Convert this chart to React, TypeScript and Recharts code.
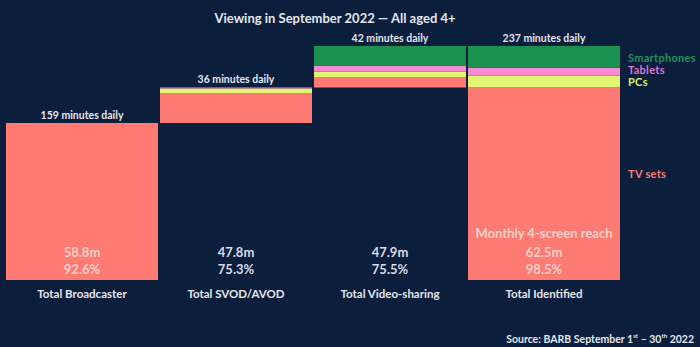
import { BarChart, Bar, XAxis, YAxis, LabelList, Legend } from "recharts";

const categories = ["Total Broadcaster", "Total SVOD/AVOD", "Total Video-sharing", "Total Identified"];
// invisible offset so each bar starts where the previous one ended
const baseMinutes = [0, 159, 195, 0];
const tvSets = [159, 30, 10, 195];
const pcs = [0, 5, 6, 12];
const tablets = [0, 1, 6, 8];
const smartphones = [0, 0, 20, 22];
const totalMinutes = [159, 36, 42, 237];
const reachPeople = ["58.8m", "47.8m", "47.9m", "62.5m"];
const reachShare = ["92.6%", "75.3%", "75.5%", "98.5%"];

const BG = "#0b1e3c";
const FONT = "Lato, 'Noto Sans', sans-serif";

const data = categories.map((name, i) => ({
  name,
  base: baseMinutes[i],
  tv: tvSets[i],
  pcs: pcs[i],
  tablets: tablets[i],
  smartphones: smartphones[i],
}));

// hung on the TV segment (never zero), lifted by the segments stacked above it
const TopLabel = (props: any) => {
  const { x, y, width, height, index } = props;
  const perMinute = height / tvSets[index];
  const above = pcs[index] + tablets[index] + smartphones[index];
  const top = y - above * perMinute;
  return (
    <text
      x={x + width / 2}
      y={top - 4}
      textAnchor="middle"
      fill="#e4e7ee"
      fontSize={10.5}
      fontWeight={700}
      fontFamily={FONT}
    >
      {totalMinutes[index]} minutes daily
    </text>
  );
};

const CategoryTick = (props: any) => {
  const { x, y, payload, index } = props;
  const inside = index === 0 || index === 3;
  const fill = inside ? "#ffd0ca" : "#d9dde6";
  return (
    <g fontFamily={FONT} fontWeight={700} textAnchor="middle">
      {index === 3 && (
        <text x={x} y={y - 42} fill={fill} fontSize={13}>
          Monthly 4-screen reach
        </text>
      )}
      <text x={x} y={y - 23} fill={fill} fontSize={13}>
        {reachPeople[index]}
      </text>
      <text x={x} y={y - 6} fill={fill} fontSize={13}>
        {reachShare[index]}
      </text>
      <text x={x} y={y + 18} fill="#e4e7ee" fontSize={11.5}>
        {payload.value}
      </text>
    </g>
  );
};

const legendItems = [
  { label: "Smartphones", color: "#1f9254", top: 2 },
  { label: "Tablets", color: "#d877cf", top: 14 },
  { label: "PCs", color: "#d6ee6c", top: 26 },
  { label: "TV sets", color: "#f47c73", top: 118 },
];

const DeviceLegend = () => (
  <div style={{ position: "relative", fontFamily: FONT, fontWeight: 700, fontSize: 11 }}>
    {legendItems.map((item) => (
      <div
        key={item.label}
        style={{
          position: "absolute",
          left: 0,
          top: item.top,
          lineHeight: "11px",
          letterSpacing: 0.3,
          whiteSpace: "nowrap",
          color: item.color,
        }}
      >
        {item.label}
      </div>
    ))}
  </div>
);

export default function App() {
  return (
    <div style={{ position: "absolute", left: 0, top: 0, width: 700, height: 347, background: BG, overflow: "hidden" }}>
      <div
        style={{
          position: "absolute",
          left: 0,
          width: 670,
          top: 11,
          textAlign: "center",
          color: "#e4e7ee",
          fontFamily: FONT,
          fontWeight: 700,
          fontSize: 13,
          lineHeight: "15px",
        }}
      >
        Viewing in September 2022 — All aged 4+
      </div>
      <BarChart
        width={700}
        height={347}
        data={data}
        margin={{ top: 46, right: 79, bottom: 37, left: 5 }}
        barCategoryGap={1}
      >
        <XAxis dataKey="name" axisLine={false} tickLine={false} tickSize={0} tickMargin={0} height={30} tick={<CategoryTick />} interval={0} />
        <YAxis hide domain={[0, 237]} />
        <Legend
          content={<DeviceLegend />}
          wrapperStyle={{ left: 628, top: 50, width: 0, height: 0 }}
        />
        <Bar dataKey="base" stackId="a" fill="transparent" isAnimationActive={false} legendType="none" />
        <Bar dataKey="tv" stackId="a" fill="#fd7b72" isAnimationActive={false}>
          <LabelList dataKey="tv" content={<TopLabel />} />
        </Bar>
        <Bar dataKey="pcs" stackId="a" fill="#e2f573" isAnimationActive={false} />
        <Bar dataKey="tablets" stackId="a" fill="#f98ad6" isAnimationActive={false} />
        <Bar dataKey="smartphones" stackId="a" fill="#1b9150" isAnimationActive={false} />
      </BarChart>
      <div
        style={{
          position: "absolute",
          right: 6,
          top: 329,
          color: "#e4e7ee",
          fontFamily: FONT,
          fontWeight: 700,
          fontSize: 10.5,
          lineHeight: "13px",
        }}
      >
        Source: BARB September 1<sup style={{ fontSize: 6 }}>st</sup> – 30<sup style={{ fontSize: 6 }}>th</sup> 2022
      </div>
    </div>
  );
}
